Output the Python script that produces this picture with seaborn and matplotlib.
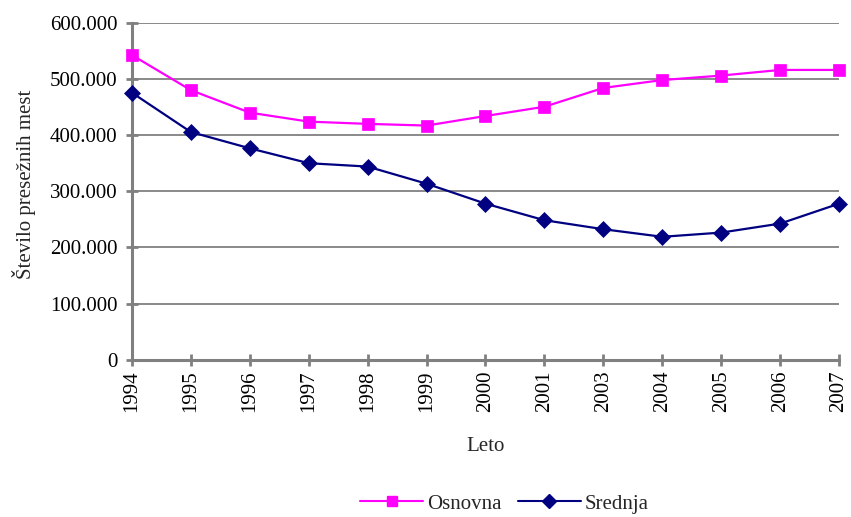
import matplotlib
matplotlib.use("Agg")
import matplotlib.pyplot as plt
import seaborn as sns
import pandas as pd
from matplotlib.ticker import FuncFormatter, MultipleLocator

years = ["1994", "1995", "1996", "1997", "1998", "1999", "2000",
         "2001", "2003", "2004", "2005", "2006", "2007"]
osnovna = [542500, 480000, 440000, 424000, 420000, 417000, 434000,
           450500, 484000, 498000, 506000, 516000, 516000]
srednja = [475500, 405500, 376500, 350000, 344000, 313500, 278000,
           248500, 232500, 219000, 226500, 242500, 278000]

series_names = ["Osnovna", "Srednja"]
colors = {"Osnovna": "#FF00FF", "Srednja": "#000080"}
markers = {"Osnovna": "s", "Srednja": "D"}

rows = []
for i, y in enumerate(years):
    rows.append({"pos": i, "Leto": y, "serija": "Osnovna", "vrednost": osnovna[i]})
    rows.append({"pos": i, "Leto": y, "serija": "Srednja", "vrednost": srednja[i]})
df = pd.DataFrame(rows)

sns.set_theme(style="white")
plt.rcParams["font.family"] = ["Liberation Serif", "DejaVu Serif"]

FS = 15

fig = plt.figure(figsize=(8.51, 5.17), dpi=100)
ax = fig.add_axes([0.155, 0.304, 0.831, 0.652])

sns.lineplot(data=df, x="pos", y="vrednost", hue="serija", style="serija",
             hue_order=series_names, style_order=series_names,
             palette=colors, markers=markers, dashes=False,
             markersize=8, linewidth=1.6, markeredgewidth=0.5,
             ax=ax, legend=False, clip_on=False, zorder=3)
for line, name in zip(ax.get_lines(), series_names):
    line.set_markeredgecolor(colors[name])

ax.set_xlim(0, len(years) - 1)
ax.set_ylim(0, 600000)
ax.yaxis.set_major_locator(MultipleLocator(100000))
ax.yaxis.set_major_formatter(FuncFormatter(lambda v, p: "0" if v == 0 else f"{int(v):,}".replace(",", ".")))
ax.set_xticks(range(len(years)))
ax.set_xticklabels(years, rotation=90)

ax.grid(axis="y", color="#808080", linewidth=1.3)
ax.grid(axis="x", visible=False)
ax.set_axisbelow(True)
for s in ["top", "right"]:
    ax.spines[s].set_visible(False)
for s in ["left", "bottom"]:
    ax.spines[s].set_color("#808080")
    ax.spines[s].set_linewidth(2.2)
    ax.spines[s].set_zorder(2)

ax.tick_params(axis="both", direction="inout", length=9, width=2, color="#808080",
               labelsize=FS, labelcolor="black", left=True, bottom=True)
ax.tick_params(axis="y", pad=6)
ax.tick_params(axis="x", pad=3)

ax.set_xlabel("Leto", fontsize=FS, labelpad=18)
ax.set_ylabel("Število presežnih mest", fontsize=FS, labelpad=14)
ax.yaxis.set_label_coords(-0.136, 0.52)

handles = [plt.Line2D([], [], color=colors[n], marker=markers[n], markersize=7,
                      markeredgecolor=colors[n], linewidth=1.5) for n in series_names]
fig.legend(handles, series_names, loc="lower center", bbox_to_anchor=(0.593, -0.03), ncol=2,
           frameon=False, fontsize=FS, handlelength=3.0, columnspacing=0.8, handletextpad=0.2)

fig.savefig("out.png", dpi=100)
